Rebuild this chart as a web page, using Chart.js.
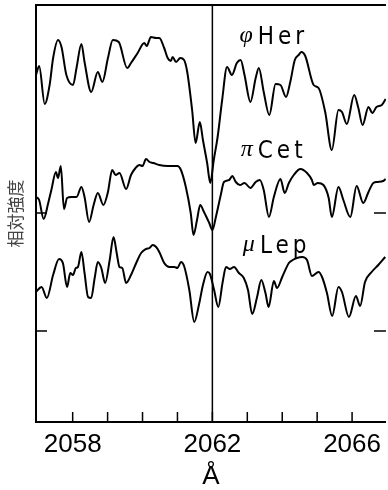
<!DOCTYPE html>
<html><head><meta charset="utf-8">
<script src="https://cdn.jsdelivr.net/npm/chart.js@4.4.0/dist/chart.umd.min.js"></script>
<style>html,body{margin:0;padding:0;background:#fff;}canvas{display:block;}</style>
</head><body>
<canvas id="c" width="388" height="490"></canvas>
<script>
// Wavelength (Å) and relative intensity (arbitrary units) for each star
const herWave = [2056.95,2057.04,2057.20,2057.34,2057.44,2057.58,2057.68,2057.82,2058.01,2058.11,
  2058.25,2058.34,2058.53,2058.72,2058.85,2059.01,2059.15,2059.32,2059.56,2059.67,
  2059.86,2060.05,2060.12,2060.24,2060.39,2060.48,2060.62,2060.72,2060.81,2060.86,
  2060.96,2061.08,2061.19,2061.28,2061.42,2061.52,2061.64,2061.73,2061.85,2061.94,
  2062.04,2062.15,2062.28,2062.42,2062.56,2062.70,2062.81,2062.92,2063.09,2063.24,
  2063.33,2063.47,2063.63,2063.81,2063.95,2064.11,2064.23,2064.36,2064.47,2064.55,
  2064.66,2064.90,2065.04,2065.23,2065.42,2065.61,2065.71,2065.85,2066.06,2066.18,
  2066.30,2066.47,2066.58,2066.70,2066.85,2066.96];
const herFlux = [347,356,318,337,364,382,375,347,337,354,
  378,360,330,350,340,364,382,380,354,359,
  369,379,376,385,384,384,374,364,361,365,
  360,364,362,350,312,279,300,282,259,239,
  262,285,322,355,347,359,362,347,320,344,
  354,330,307,338,337,325,340,362,367,370,
  366,337,334,310,272,312,310,298,327,314,
  297,315,309,315,317,323];

const cetWave = [2056.95,2057.04,2057.17,2057.30,2057.39,2057.52,2057.58,2057.66,2057.75,2057.84,
  2057.96,2058.11,2058.25,2058.34,2058.47,2058.60,2058.72,2058.88,2059.01,2059.13,
  2059.23,2059.34,2059.53,2059.67,2059.80,2059.91,2060.00,2060.10,2060.20,2060.31,
  2060.48,2060.72,2061.00,2061.10,2061.24,2061.38,2061.46,2061.56,2061.65,2061.76,
  2061.91,2062.00,2062.10,2062.24,2062.33,2062.48,2062.57,2062.67,2062.79,2062.92,
  2063.09,2063.24,2063.36,2063.47,2063.62,2063.76,2063.95,2064.07,2064.19,2064.33,
  2064.52,2064.71,2064.85,2064.90,2065.02,2065.18,2065.33,2065.42,2065.61,2065.75,
  2065.95,2066.13,2066.32,2066.47,2066.61,2066.73,2066.89,2066.96];
const cetFlux = [225,222,203,219,232,250,244,256,213,224,
  225,225,235,225,200,217,229,217,230,252,
  247,249,233,247,254,257,256,263,260,259,
  257,256,256,252,235,209,187,202,217,210,
  199,192,205,227,240,242,246,240,237,239,
  234,240,242,232,205,225,243,229,239,247,
  253,249,242,237,239,237,224,205,235,222,
  205,236,219,230,239,240,241,243];

const lepWave = [2056.95,2057.11,2057.26,2057.44,2057.61,2057.72,2057.84,2057.93,2058.01,2058.09,
  2058.15,2058.25,2058.34,2058.44,2058.53,2058.63,2058.72,2058.82,2058.93,2059.06,
  2059.17,2059.26,2059.34,2059.42,2059.53,2059.67,2059.82,2059.96,2060.10,2060.20,
  2060.29,2060.39,2060.48,2060.62,2060.77,2060.91,2061.00,2061.10,2061.19,2061.34,
  2061.48,2061.62,2061.73,2061.86,2061.93,2062.05,2062.17,2062.29,2062.39,2062.50,
  2062.62,2062.76,2062.90,2063.02,2063.14,2063.28,2063.40,2063.52,2063.61,2063.76,
  2063.85,2064.00,2064.19,2064.30,2064.42,2064.57,2064.71,2064.85,2065.04,2065.14,
  2065.28,2065.43,2065.61,2065.71,2065.91,2066.11,2066.23,2066.37,2066.56,2066.75,
  2066.95];
const lepFlux = [130,135,124,147,163,159,135,149,147,154,
  155,170,149,125,124,144,160,154,139,162,
  185,169,155,154,139,147,159,169,173,174,
  177,175,170,159,155,155,154,160,156,132,
  100,118,137,150,148,132,115,139,155,153,
  155,149,144,132,108,125,142,129,115,141,
  134,145,159,162,164,165,162,146,150,145,
  129,106,135,130,105,126,116,140,150,157,
  165];

const xTickValues = [2058,2059,2060,2061,2062,2063,2064,2065,2066];
const xTickLabels = [2058,2062,2066];
const yTickValues = [91,209];
const markerWave = [2062];
const starGreek = ['φ','π','μ'];
const starName = ['Her','Cet','Lep'];

// label anchors (data space) for the star names
const labelAnchors = [
  {x:2063.30, y:378},
  {x:2063.30, y:264},
  {x:2063.36, y:169}
];

const toPts = (w,f) => w.map((v,i)=>({x:v,y:f[i]}));

const decor = {
  id:'decor',
  afterDraw(chart){
    const {ctx, chartArea:a, scales:{x,y}} = chart;
    ctx.save();
    ctx.strokeStyle = '#000';
    ctx.lineCap = 'butt';
    // top frame line
    ctx.lineWidth = 2;
    ctx.beginPath(); ctx.moveTo(a.left-1, a.top); ctx.lineTo(a.right, a.top); ctx.stroke();
    // reference wavelength line
    ctx.lineWidth = 1.5;
    markerWave.forEach(w=>{
      const px = x.getPixelForValue(w);
      ctx.beginPath(); ctx.moveTo(px, a.top); ctx.lineTo(px, a.bottom); ctx.stroke();
    });
    // inward x ticks
    x.ticks.forEach(t=>{
      const px = x.getPixelForValue(t.value);
      ctx.beginPath(); ctx.moveTo(px, a.bottom); ctx.lineTo(px, a.bottom-10); ctx.stroke();
    });
    // inward y ticks left and right
    y.ticks.forEach(t=>{
      const py = y.getPixelForValue(t.value);
      ctx.beginPath();
      ctx.moveTo(a.left, py); ctx.lineTo(a.left+11, py);
      ctx.moveTo(a.right, py); ctx.lineTo(a.right-12, py);
      ctx.stroke();
    });
    // star labels
    ctx.fillStyle = '#000';
    ctx.textBaseline = 'alphabetic';
    labelAnchors.forEach((p,i)=>{
      const px = x.getPixelForValue(p.x), py = y.getPixelForValue(p.y);
      ctx.font = 'italic 24px "Liberation Serif"';
      ctx.textAlign = 'right';
      ctx.letterSpacing = '0px';
      ctx.fillText(starGreek[i], px-5, py-2);
      ctx.font = '24px "Liberation Sans Narrow", "DejaVu Sans Condensed", "Liberation Sans"';
      ctx.textAlign = 'left';
      ctx.letterSpacing = '4px';
      ctx.fillText(starName[i], px, py);
    });
    ctx.restore();
  }
};

new Chart(document.getElementById('c'), {
  type:'scatter',
  data:{
    datasets:[
      {label:'φ Her', data:toPts(herWave, herFlux)},
      {label:'π Cet', data:toPts(cetWave, cetFlux)},
      {label:'μ Lep', data:toPts(lepWave, lepFlux)}
    ].map(d=>Object.assign(d,{showLine:true, borderColor:'#000', backgroundColor:'#000', borderWidth:2, pointRadius:0, cubicInterpolationMode:'monotone'}))
  },
  options:{
    responsive:false,
    animation:false,
    layout:{padding:{top:5,right:0,left:0,bottom:0}},
    plugins:{legend:{display:false}, tooltip:{enabled:false}},
    scales:{
      x:{
        type:'linear', min:2056.95, max:2066.97,
        afterBuildTicks:s=>{ s.ticks = xTickValues.map(v=>({value:v})); },
        afterFit:s=>{ s.height = 68; },
        ticks:{callback:v=> xTickLabels.includes(v) ? String(v) : '', font:{family:'"Liberation Sans"', size:26}, color:'#000', padding:7, maxRotation:0, autoSkip:false},
        grid:{display:false, drawTicks:false},
        border:{display:true, color:'#000', width:2},
        title:{display:true, text:'Å', font:{family:'"Liberation Sans"', size:26}, color:'#000', padding:{top:0,bottom:-2}}
      },
      y:{
        type:'linear', min:0, max:417,
        afterBuildTicks:s=>{ s.ticks = yTickValues.map(v=>({value:v})); },
        afterFit:s=>{ s.width = 36; },
        ticks:{display:false},
        grid:{display:false, drawTicks:false},
        border:{display:true, color:'#000', width:2},
        title:{display:true, text:'相対強度', font:{family:'"Noto Sans CJK JP"', size:17}, color:'#444', padding:{top:5,bottom:0}}
      }
    }
  },
  plugins:[decor]
});
</script>
</body></html>
